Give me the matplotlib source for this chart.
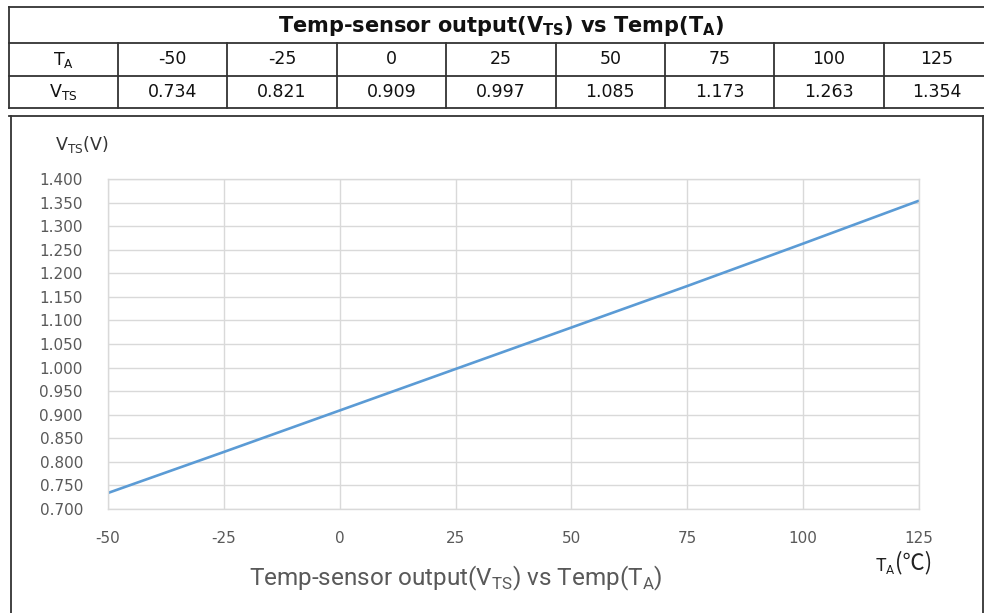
import matplotlib
matplotlib.use("Agg")
import matplotlib.pyplot as plt
from matplotlib.lines import Line2D

ta = [-50, -25, 0, 25, 50, 75, 100, 125]
vts = [0.734, 0.821, 0.909, 0.997, 1.085, 1.173, 1.263, 1.354]
ta_labels = ["-50", "-25", "0", "25", "50", "75", "100", "125"]
vts_labels = ["0.734", "0.821", "0.909", "0.997", "1.085", "1.173", "1.263", "1.354"]
yticks = [0.70 + 0.05 * i for i in range(15)]

W, H = 984, 613
fig = plt.figure(figsize=(W / 100, H / 100), dpi=100)

def fx(x):
    return x / W

def fy(y):
    return 1 - y / H

def hline(x0, x1, y, lw=1.3, color="#333333"):
    fig.add_artist(Line2D([fx(x0), fx(x1)], [fy(y), fy(y)], lw=lw, color=color,
                          transform=fig.transFigure))

def vline(x, y0, y1, lw=1.3, color="#333333"):
    fig.add_artist(Line2D([fx(x), fx(x)], [fy(y0), fy(y1)], lw=lw, color=color,
                          transform=fig.transFigure))

# ---- table ----
tfont = "DejaVu Sans"
left, right = 9, 990
top, r1, r2, r3 = 7, 43, 76, 108
hline(left, right, top)
hline(left, right, r1)
hline(left, right, r2)
hline(left, right, r3)
vline(left, top, r3)
cols = [118 + 109.4 * i for i in range(9)]
for c in cols[:-1]:
    vline(c, r1, r3)

fig.text(fx(501), fy((top + r1) / 2 + 1),
         r"Temp-sensor output(V$_\mathregular{TS}$) vs Temp(T$_\mathregular{A}$)",
         ha="center", va="center", fontsize=15, fontweight="bold", family=tfont,
         color="#111111")
fig.text(fx((left + cols[0]) / 2), fy((r1 + r2) / 2), r"T$_\mathregular{A}$",
         ha="center", va="center", fontsize=12.5, family=tfont, color="#111111")
fig.text(fx((left + cols[0]) / 2), fy((r2 + r3) / 2), r"V$_\mathregular{TS}$",
         ha="center", va="center", fontsize=12.5, family=tfont, color="#111111")
for i in range(8):
    cx = (cols[i] + cols[i + 1]) / 2
    if i == 7:
        cx = (cols[i] + 984) / 2 + 3
    fig.text(fx(cx), fy((r1 + r2) / 2), ta_labels[i], ha="center", va="center",
             fontsize=12.5, family=tfont, color="#111111")
    fig.text(fx(cx), fy((r2 + r3) / 2), vts_labels[i], ha="center", va="center",
             fontsize=12.5, family=tfont, color="#111111")

# ---- chart frame ----
hline(left, right, 116)
vline(11, 116, 620)
vline(983, 116, 620)

# ---- plot ----
ax = fig.add_axes([fx(108), fy(509), fx(919) - fx(108), fy(179) - fy(509)])
ax.plot(ta, vts, color="#5B9BD5", lw=1.9, solid_capstyle="butt")
ax.set_xlim(-50, 125)
ax.set_ylim(0.70, 1.40)
ax.set_xticks(ta)
ax.set_xticklabels(ta_labels)
ax.set_yticks(yticks)
ax.set_yticklabels([f"{v:.3f}" for v in yticks])
ax.grid(True, color="#D9D9D9", lw=1.0)
ax.set_axisbelow(True)
for s in ax.spines.values():
    s.set_color("#D9D9D9")
    s.set_linewidth(1.0)
ax.tick_params(length=0, colors="#595959", labelsize=11)
ax.tick_params(axis="x", pad=16)
ax.tick_params(axis="y", pad=18)
for lab in ax.get_xticklabels() + ax.get_yticklabels():
    lab.set_family(tfont)

fig.text(fx(55), fy(145), r"V$_\mathregular{TS}$(V)", ha="left", va="center",
         fontsize=12.5, color="#333333", family=tfont)
fig.text(fx(875), fy(566), r"T$_\mathregular{A}$", ha="left", va="center",
         fontsize=13, color="#222222", family="Roboto")
fig.text(fx(895), fy(563), "(℃)", ha="left", va="center",
         fontsize=16, color="#222222", family=["Noto Sans CJK SC", "DejaVu Sans"])
fig.text(fx(456), fy(578),
         r"Temp-sensor output(V$_\mathregular{TS}$) vs Temp(T$_\mathregular{A}$)",
         ha="center", va="center", fontsize=17.5, color="#595959",
         family="Roboto")

fig.savefig("out.png", dpi=100)
